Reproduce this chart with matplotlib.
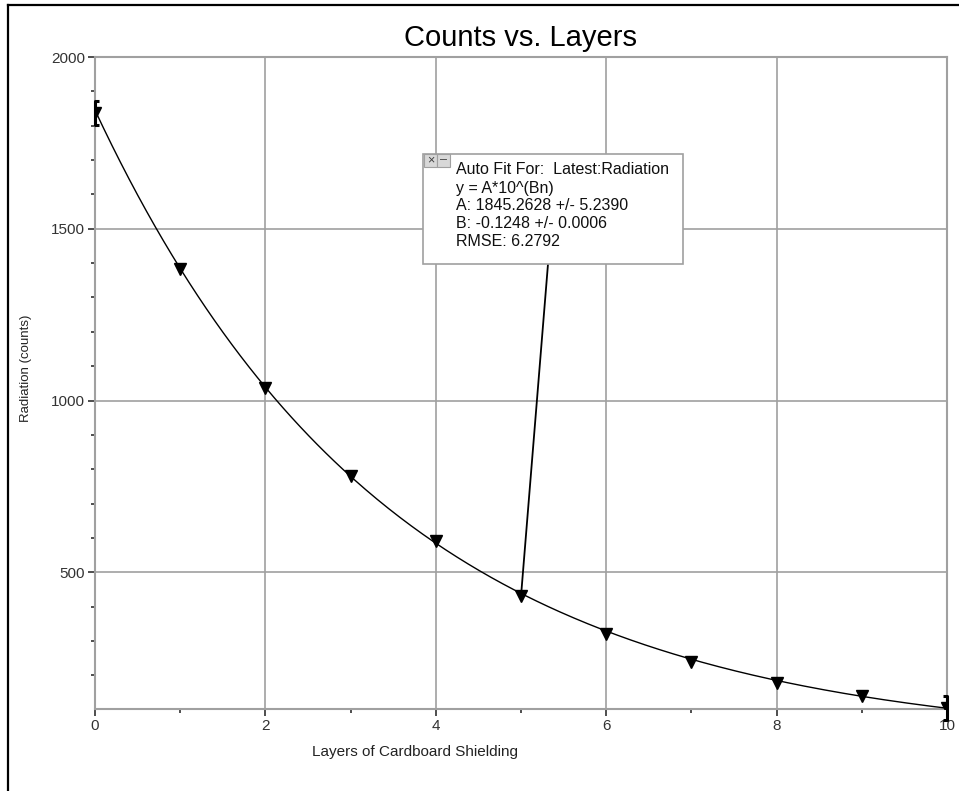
import numpy as np
import matplotlib.pyplot as plt
from matplotlib.lines import Line2D
from matplotlib.patches import Rectangle
from matplotlib.path import Path
from matplotlib.ticker import MultipleLocator

plt.rcParams['font.family'] = ['Liberation Sans', 'DejaVu Sans']

# Measured counts for each number of cardboard layers
layers = [0, 1, 2, 3, 4, 5, 6, 7, 8, 9, 10]
counts = [1838, 1384, 1035, 779, 590, 430, 320, 238, 178, 140, 106]

# Auto fit parameters shown in the box
A = 1845.2628
B = -0.1248
fit_lines = ['Auto Fit For:  Latest:Radiation',
             'y = A*10^(Bn)',
             'A: 1845.2628 +/- 5.2390',
             'B: -0.1248 +/- 0.0006',
             'RMSE: 6.2792']

grey = '#a0a0a0'
dark = '#303030'

fig = plt.figure(figsize=(9.59, 7.91), dpi=100)
ax = fig.add_axes([95/959, 1 - 709/791, 852/959, 652/791])

# fit curve
n = np.linspace(layers[0], layers[-1], 300)
ax.plot(n, A * 10**(B * n), color='black', lw=1.0, zorder=3)

# data points
ax.plot(layers, counts, linestyle='none', marker='v', ms=9,
        color='black', zorder=4, clip_on=True)

# selection brackets at the ends of the fit range
lbr = Path([(0.35, -1), (0, -1), (0, 1), (0.35, 1)],
           [Path.MOVETO, Path.LINETO, Path.LINETO, Path.LINETO])
rbr = Path([(-0.35, -1), (0, -1), (0, 1), (-0.35, 1)],
           [Path.MOVETO, Path.LINETO, Path.LINETO, Path.LINETO])
ax.plot(layers[0], counts[0], marker=lbr, ms=17, mew=2.2, mfc='none',
        mec='black', clip_on=False, zorder=5)
ax.plot(layers[-1], counts[-1], marker=rbr, ms=17, mew=2.2, mfc='none',
        mec='black', clip_on=False, zorder=5)

ax.set_xlim(0, 10)
ax.set_ylim(102, 2000)
ax.xaxis.set_major_locator(MultipleLocator(2))
ax.xaxis.set_minor_locator(MultipleLocator(1))
ax.yaxis.set_major_locator(MultipleLocator(500))
ax.yaxis.set_minor_locator(MultipleLocator(100))
ax.tick_params(which='major', direction='out', length=5, width=1.2,
               color=dark, labelcolor='#333333', labelsize=11, pad=2)
ax.tick_params(which='minor', direction='out', length=3, width=1.2, color=dark)
ax.grid(True, which='major', color=grey, lw=1.2)
for s in ax.spines.values():
    s.set_color(grey)
    s.set_linewidth(1.5)

ax.set_title('Counts vs. Layers', fontsize=21, pad=8)
ax.set_xlabel('Layers of Cardboard Shielding', fontsize=11, color='#222222')
ax.xaxis.set_label_coords((415 - 95) / 852, -0.055)
ax.set_ylabel('Radiation (counts)', fontsize=9.5, color='#222222')
ax.yaxis.set_label_coords(-(95 - 32) / 852, (709 - 368) / 652)

# auto fit box with connector to the selected point
bx0, bx1 = (423 - 95) / 852, (683 - 95) / 852
by0, by1 = (709 - 264) / 652, (709 - 154) / 652
ax.annotate('', xy=(layers[5], counts[5]), xycoords='data',
            xytext=((548 - 95) / 852, by0), textcoords='axes fraction',
            arrowprops=dict(arrowstyle='-', color='black', lw=1.3,
                            shrinkA=0, shrinkB=0), zorder=6)
ax.add_patch(Rectangle((bx0, by0), bx1 - bx0, by1 - by0, transform=ax.transAxes,
                       facecolor='white', edgecolor=grey, lw=1.2, zorder=7,
                       clip_on=False))
iw, ih = 13 / 852, 13 / 652
for i, sym in enumerate(['×', '–']):
    ix = (424 - 95) / 852 + i * iw
    ax.add_patch(Rectangle((ix, by1 - ih), iw, ih, transform=ax.transAxes,
                           facecolor='#d8d8d8', edgecolor=grey, lw=0.8,
                           zorder=8, clip_on=False))
    ax.text(ix + iw / 2, by1 - ih / 2, sym, transform=ax.transAxes,
            ha='center', va='center', fontsize=9, color='#404040', zorder=9)
for i, line in enumerate(fit_lines):
    ax.text((456 - 95) / 852, (709 - 170 - 18 * i) / 652, line,
            transform=ax.transAxes, ha='left', va='center', fontsize=11.5,
            color='#101010', zorder=9)

# screenshot frame edges
fig.add_artist(Line2D([8 / 959, 8 / 959], [0, 1 - 5 / 791], color='black', lw=1.6))
fig.add_artist(Line2D([8 / 959, 1], [1 - 5 / 791, 1 - 5 / 791], color='black', lw=1.6))

fig.savefig('out.png', dpi=100)
